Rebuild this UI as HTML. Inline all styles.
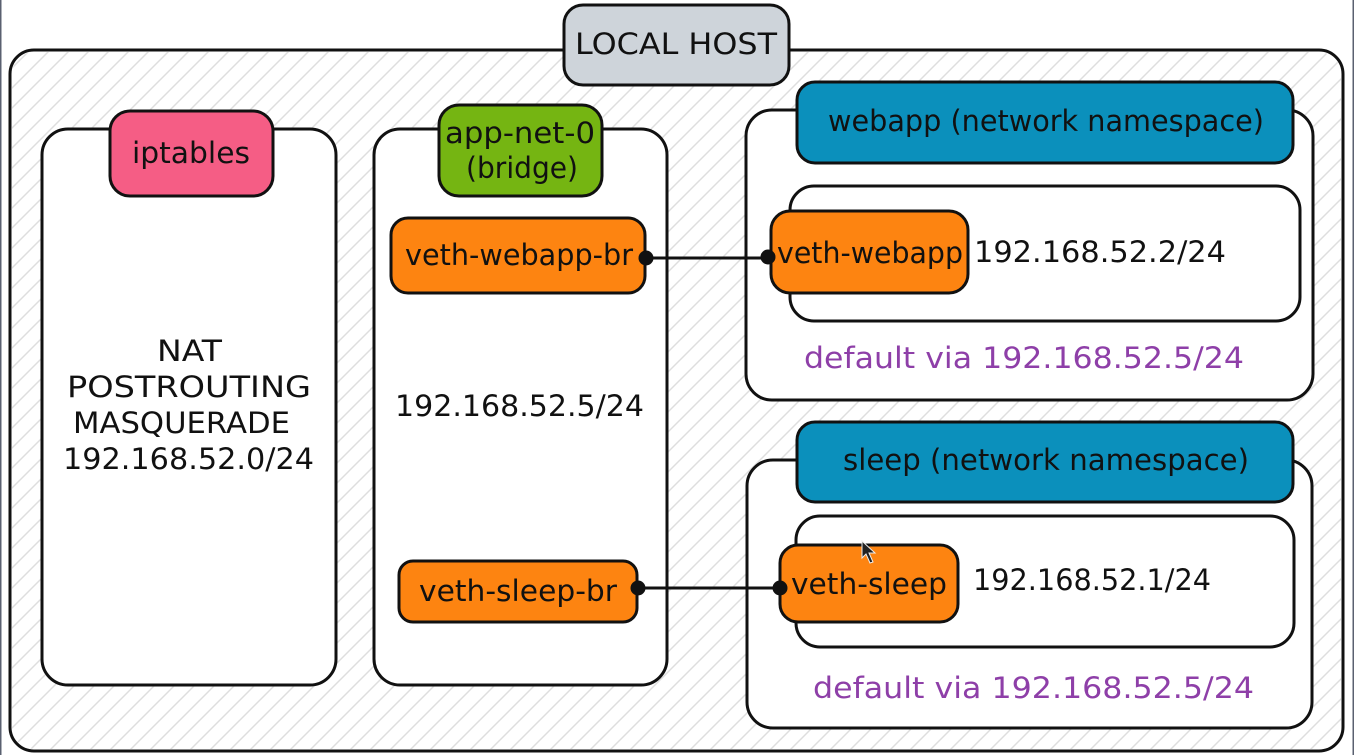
<!DOCTYPE html>
<html>
<head>
<meta charset="utf-8">
<style>
html,body{margin:0;padding:0;background:#fff;width:1354px;height:755px;overflow:hidden}
svg{display:block}
text{font-family:"DejaVu Sans","Liberation Sans",sans-serif;fill:#111;font-size:29px}
.b{stroke:#111;stroke-width:3}
</style>
</head>
<body>
<svg width="1354" height="755" viewBox="0 0 1354 755" xmlns="http://www.w3.org/2000/svg">
<defs>
<pattern id="h" patternUnits="userSpaceOnUse" width="20" height="20">
<path d="M-2 22L22 -2M-2 2L2 -2M18 22L22 18" stroke="#dedede" stroke-width="1.5" fill="none"/>
</pattern>
</defs>
<rect x="0" y="0" width="1.5" height="755" fill="#5a6070"/>
<rect x="1352.5" y="0" width="1.5" height="755" fill="#5a6070"/>
<rect class="b" x="10" y="50" width="1333" height="701" rx="24" fill="#fff"/>
<rect x="12" y="52" width="1329" height="697" rx="22" fill="url(#h)"/>

<rect class="b" x="42" y="129" width="294" height="556" rx="26" fill="#fff"/>
<rect class="b" x="374" y="129" width="293" height="556" rx="26" fill="#fff"/>
<rect class="b" x="746" y="110" width="567" height="290" rx="26" fill="#fff"/>
<rect class="b" x="747" y="460" width="565" height="268" rx="26" fill="#fff"/>
<rect class="b" x="790" y="186" width="510" height="135" rx="24" fill="#fff"/>
<rect class="b" x="796" y="516" width="498" height="131" rx="24" fill="#fff"/>

<rect class="b" x="564" y="5" width="225" height="80" rx="19" fill="#ced4da"/>
<rect class="b" x="110" y="111" width="163" height="85" rx="20" fill="#f55d85"/>
<rect class="b" x="439" y="105" width="163" height="91" rx="20" fill="#75b512"/>
<rect class="b" x="797" y="82" width="496" height="81" rx="18" fill="#0b90bc"/>
<rect class="b" x="797" y="422" width="496" height="80" rx="18" fill="#0b90bc"/>
<rect class="b" x="391" y="218" width="254" height="75" rx="17" fill="#fd8411"/>
<rect class="b" x="399" y="561" width="238" height="61" rx="14" fill="#fd8411"/>
<rect class="b" x="771" y="211" width="197" height="82" rx="19" fill="#fd8411"/>
<rect class="b" x="780" y="545" width="178" height="77" rx="18" fill="#fd8411"/>

<line class="b" x1="646" y1="258" x2="768" y2="258"/>
<line class="b" x1="638" y1="588" x2="780" y2="588"/>
<circle cx="646" cy="258" r="7.5" fill="#111"/>
<circle cx="768" cy="257" r="7.5" fill="#111"/>
<circle cx="638" cy="588" r="7.5" fill="#111"/>
<circle cx="780" cy="588" r="7.5" fill="#111"/>

<path d="M862 541l0 17 4-4 4 9 3-1-4-9 6 0z" fill="#222" stroke="#eee" stroke-width="1"/>

<text x="575" y="54" textLength="202" lengthAdjust="spacingAndGlyphs">LOCAL HOST</text>
<text x="132" y="163" textLength="118" lengthAdjust="spacingAndGlyphs">iptables</text>
<text x="445" y="143" textLength="150" lengthAdjust="spacingAndGlyphs">app-net-0</text>
<text x="466" y="178" textLength="112" lengthAdjust="spacingAndGlyphs">(bridge)</text>
<text x="828" y="131" textLength="436" lengthAdjust="spacingAndGlyphs">webapp (network namespace)</text>
<text x="843" y="470" textLength="406" lengthAdjust="spacingAndGlyphs">sleep (network namespace)</text>
<text x="405" y="265" textLength="228" lengthAdjust="spacingAndGlyphs">veth-webapp-br</text>
<text x="419" y="601" textLength="198" lengthAdjust="spacingAndGlyphs">veth-sleep-br</text>
<text x="777" y="263" textLength="186" lengthAdjust="spacingAndGlyphs">veth-webapp</text>
<text x="791" y="594" textLength="156" lengthAdjust="spacingAndGlyphs">veth-sleep</text>
<text x="974" y="262" textLength="252" lengthAdjust="spacingAndGlyphs">192.168.52.2/24</text>
<text x="973" y="590" textLength="238" lengthAdjust="spacingAndGlyphs">192.168.52.1/24</text>
<text x="395" y="416" textLength="249" lengthAdjust="spacingAndGlyphs">192.168.52.5/24</text>
<text x="157" y="361" textLength="65" lengthAdjust="spacingAndGlyphs">NAT</text>
<text x="67" y="397" textLength="244" lengthAdjust="spacingAndGlyphs">POSTROUTING</text>
<text x="73" y="433" textLength="217" lengthAdjust="spacingAndGlyphs">MASQUERADE</text>
<text x="63" y="469" textLength="251" lengthAdjust="spacingAndGlyphs">192.168.52.0/24</text>
<text x="804" y="368" textLength="440" lengthAdjust="spacingAndGlyphs" style="fill:#8e3fa8">default via 192.168.52.5/24</text>
<text x="813" y="698" textLength="441" lengthAdjust="spacingAndGlyphs" style="fill:#8e3fa8">default via 192.168.52.5/24</text>
</svg>
</body>
</html>
